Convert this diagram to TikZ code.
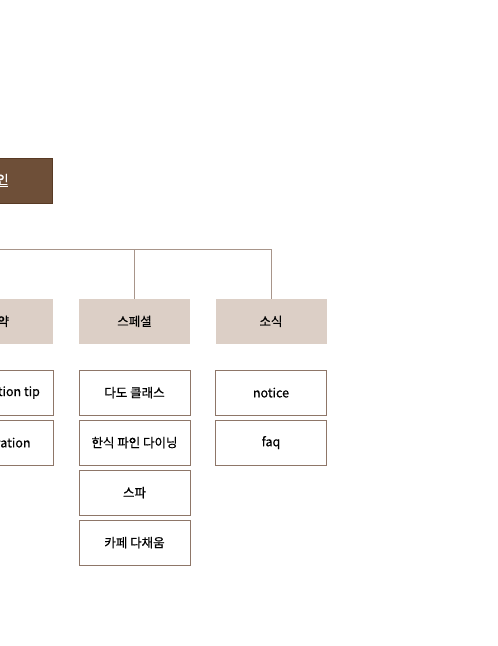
\documentclass[tikz,border=0pt]{standalone}
\usepackage{fontspec}
\newfontfamily\kr[FakeBold=0.6]{Noto Sans CJK KR}
\definecolor{topfill}{HTML}{6E4F38}
\definecolor{topdraw}{HTML}{583A24}
\definecolor{catfill}{HTML}{DCCFC6}
\definecolor{linec}{HTML}{A8958A}
\definecolor{itemdraw}{HTML}{8E7668}
\begin{document}
\begin{tikzpicture}[x=1pt,y=-1pt,
  box/.style={minimum width=111pt,minimum height=45pt,inner sep=0pt,outer sep=0pt,font=\kr\fontsize{12.5}{14}\selectfont,text=black},
  topbox/.style={box,fill=topfill,draw=topdraw,line width=0.8pt,text=white},
  catbox/.style={box,fill=catfill},
  itembox/.style={box,fill=white,draw=itemdraw,line width=0.8pt},
  link/.style={draw=linec,line width=0.8pt}]
\useasboundingbox (0,0) rectangle (498,646);
\clip (0,0) rectangle (498,646);
\node[topbox] (main) at (-3,180.5) {\underline{메인}};
\node[catbox] (c1) at (-2.5,321.3) {예약};
\node[catbox] (c2) at (134.5,321.3) {스페셜};
\node[catbox] (c3) at (271,321.3) {소식};
\coordinate (bus) at (0,249.5);
\draw[link] (main.south) |- (c3.north |- bus) -- (c3.north);
\draw[link] (c1.north) -- (c1.north |- bus);
\draw[link] (c2.north) -- (c2.north |- bus);
\node[itembox] (a1) at (-2.5,392.6) {reservation tip};
\node[itembox] (a2) at (-2.5,442.6) {reservation};
\node[itembox] (b1) at (134.5,392.6) {다도 클래스};
\node[itembox] (b2) at (134.5,442.6) {한식 파인 다이닝};
\node[itembox] (b3) at (134.5,492.6) {스파};
\node[itembox] (b4) at (134.5,542.6) {카페 다채움};
\node[itembox] (d1) at (271,392.6) {notice};
\node[itembox] (d2) at (271,442.6) {faq};
\end{tikzpicture}
\end{document}
